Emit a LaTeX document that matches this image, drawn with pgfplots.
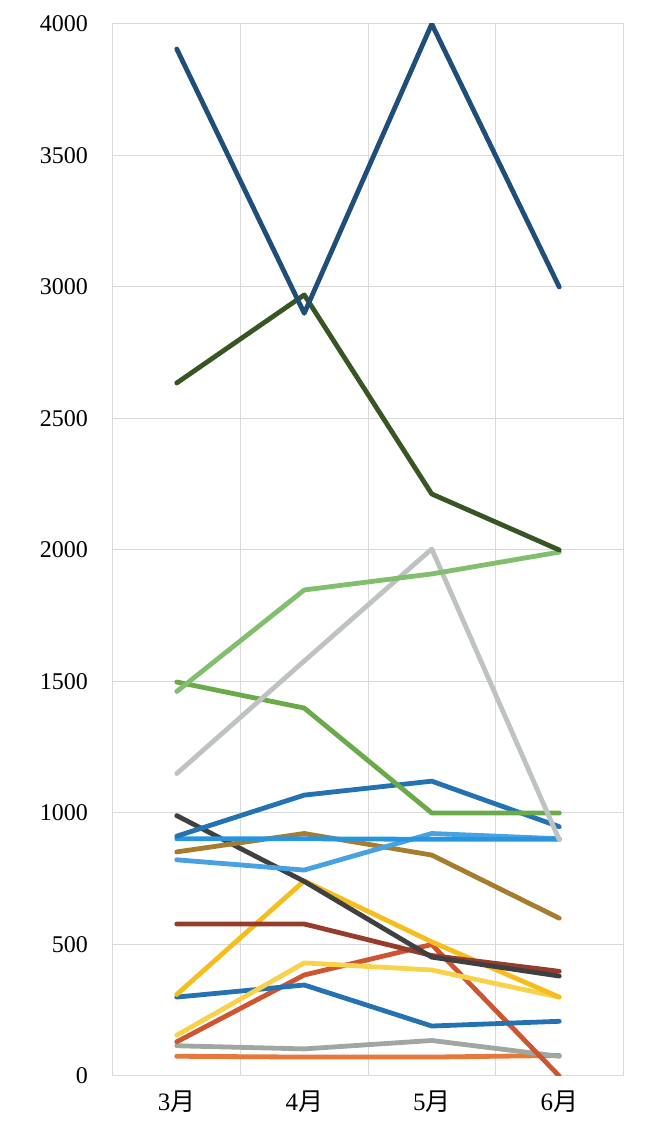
\documentclass[border=0pt]{standalone}
\usepackage{pgfplots}
\pgfplotsset{compat=1.18}
\usepackage{fontspec}
\setmainfont{Liberation Serif}
\newfontfamily\cjk{Noto Sans CJK JP}

\definecolor{navy}{RGB}{31,78,121}
\definecolor{dkgreen}{RGB}{55,86,35}
\definecolor{ltgreen}{RGB}{130,190,110}
\definecolor{ltgray}{RGB}{190,194,194}
\definecolor{mdgreen}{RGB}{106,170,72}
\definecolor{blueA}{RGB}{36,114,178}
\definecolor{skyA}{RGB}{40,150,222}
\definecolor{skyB}{RGB}{72,162,226}
\definecolor{brownA}{RGB}{166,124,46}
\definecolor{blackA}{RGB}{64,64,64}
\definecolor{dkred}{RGB}{150,60,45}
\definecolor{goldA}{RGB}{245,190,30}
\definecolor{yellowA}{RGB}{248,210,75}
\definecolor{orred}{RGB}{205,85,50}
\definecolor{grayA}{RGB}{160,166,160}
\definecolor{orangeA}{RGB}{230,120,60}

\begin{document}
\begin{tikzpicture}
\path[use as bounding box] (-56.5pt,-23pt) rectangle (275.5pt,538pt);
\begin{axis}[
    scale only axis,
    width=255pt, height=526pt,
    at={(0,0)}, anchor=south west,
    xmin=-0.5, xmax=3.5,
    ymin=0, ymax=4000,
    xtick={0,1,2,3},
    xticklabels={3{\cjk 月},4{\cjk 月},5{\cjk 月},6{\cjk 月}},
    minor xtick={-0.5,0.5,1.5,2.5,3.5},
    ytick={0,500,...,4000},
    major tick length=0pt, minor tick length=0pt,
    xminorgrids, ymajorgrids, xmajorgrids=false,
    grid style={gray!30, line width=0.5pt},
    minor grid style={gray!30, line width=0.5pt},
    axis line style={gray!30, line width=0.5pt},
    yticklabel style={font=\fontsize{12}{14}\selectfont, xshift=-9pt},
    xticklabel style={font=\fontsize{12.5}{14}\selectfont, yshift=-4pt},
    /pgf/number format/assume math mode=true,
    /pgf/number format/set thousands separator={},
    every axis plot/.append style={line width=2.4pt, line join=round, line cap=round, mark=none},
]
\addplot[orangeA] coordinates {(0,75) (1,72) (2,72) (3,78)};
\addplot[grayA] coordinates {(0,115) (1,103) (2,135) (3,75)};
\addplot[orred] coordinates {(0,130) (1,384) (2,500) (3,0)};
\addplot[blueA] coordinates {(0,300) (1,346) (2,190) (3,208)};
\addplot[yellowA] coordinates {(0,155) (1,430) (2,403) (3,300)};
\addplot[goldA] coordinates {(0,310) (1,742) (2,510) (3,300)};
\addplot[dkred] coordinates {(0,578) (1,578) (2,458) (3,398)};
\addplot[blackA] coordinates {(0,990) (1,740) (2,452) (3,380)};
\addplot[brownA] coordinates {(0,852) (1,922) (2,840) (3,600)};
\addplot[skyB] coordinates {(0,822) (1,783) (2,922) (3,902)};
\addplot[skyA] coordinates {(0,902) (1,902) (2,900) (3,900)};
\addplot[blueA] coordinates {(0,912) (1,1068) (2,1121) (3,948)};
\addplot[mdgreen] coordinates {(0,1498) (1,1399) (2,1000) (3,1000)};
\addplot[ltgray] coordinates {(0,1150) (1,1578) (2,2004) (3,898)};
\addplot[ltgreen] coordinates {(0,1462) (1,1848) (2,1909) (3,1992)};
\addplot[dkgreen] coordinates {(0,2635) (1,2970) (2,2213) (3,2000)};
\addplot[navy] coordinates {(0,3905) (1,2900) (2,4000) (3,3000)};
\end{axis}
\end{tikzpicture}
\end{document}
